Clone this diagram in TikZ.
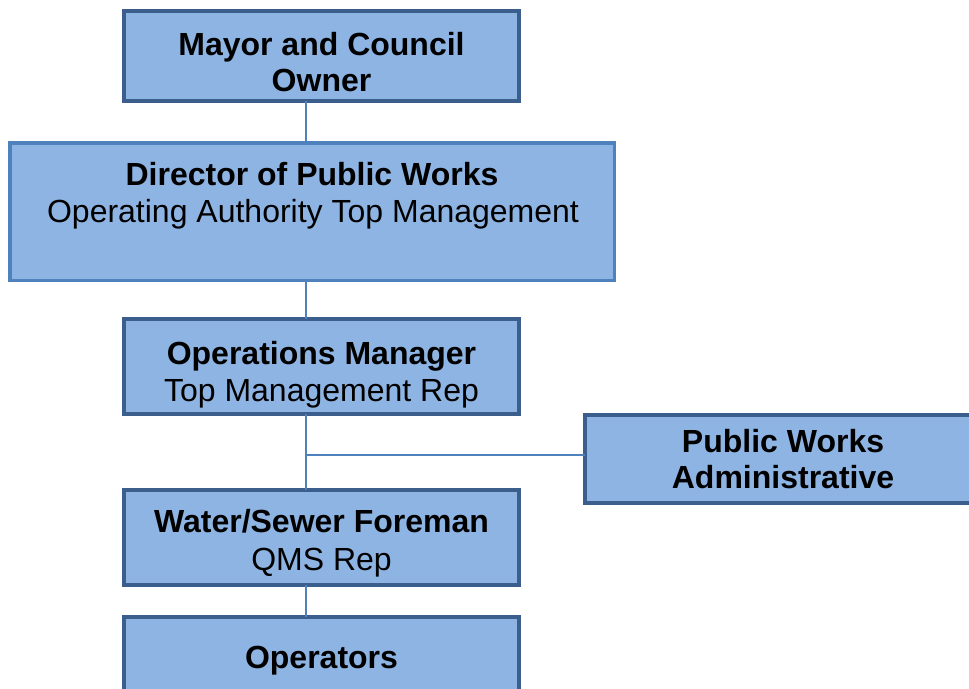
\documentclass[tikz,border=0pt]{standalone}
\usepackage{fontspec}
\setmainfont{Liberation Sans}
\definecolor{boxfill}{HTML}{8EB4E3}
\definecolor{darkedge}{HTML}{3B5E8C}
\definecolor{lightedge}{HTML}{4F81BD}
\begin{document}
\begin{tikzpicture}[x=1pt,y=-1pt,
  orgbox/.style={draw=darkedge,fill=boxfill,line width=4pt,rectangle,inner sep=0pt,outer sep=0pt},
  topbox/.style={draw=lightedge,fill=boxfill,line width=3.5pt,rectangle,inner sep=0pt,outer sep=0pt},
  lbl/.style={anchor=base,inner sep=0pt,font=\fontsize{32}{36}\selectfont},
  blbl/.style={lbl,font=\fontsize{32}{36}\selectfont\bfseries},
  conn/.style={draw=lightedge,line width=1.8pt}]
\useasboundingbox (0,0) rectangle (969,688);
\clip (0,0) rectangle (969,688);
% boxes
\node[orgbox,minimum width=395pt,minimum height=90pt] (mayor) at (321.5,56) {};
\node[topbox,minimum width=604.5pt,minimum height=137.5pt] (director) at (312,211.5) {};
\node[orgbox,minimum width=395pt,minimum height=95pt] (ops) at (321.5,366.5) {};
\node[orgbox,minimum width=400pt,minimum height=88pt] (pwa) at (785,459) {};
\node[orgbox,minimum width=395pt,minimum height=95pt] (water) at (321.5,537.5) {};
\node[orgbox,minimum width=395pt,minimum height=110pt] (operators) at (321.5,672) {};
% spine coordinates
\coordinate (spine) at (306,0);
\coordinate (branch) at (306,455);
% connectors
\draw[conn] (mayor.south -| spine) -- (director.north -| spine);
\draw[conn] (director.south -| spine) -- (ops.north -| spine);
\draw[conn] (ops.south -| spine) -- (water.north -| spine);
\draw[conn] (branch) -- (branch -| pwa.west);
\draw[conn] (water.south -| spine) -- (operators.north -| spine);
% labels
\node[blbl] (t1) at (321.5,55) {Mayor and Council};
\node[blbl] (t2) at (321.5,91) {Owner};
\node[blbl] (t3) at (312,185) {Director of Public Works};
\node[lbl] (t4) at (313,222) {Operating Authority Top Management};
\node[blbl] (t5) at (321.5,364.5) {Operations Manager};
\node[lbl] (t6) at (321.5,401.5) {Top Management Rep};
\node[blbl] (t7) at (783,452.5) {Public Works};
\node[blbl] (t8) at (783,488.5) {Administrative};
\node[blbl] (t9) at (321.5,532.5) {Water/Sewer Foreman};
\node[lbl] (t10) at (321.5,570.5) {QMS Rep};
\node[blbl] (t11) at (321.5,668.5) {Operators};
\end{tikzpicture}
\end{document}
